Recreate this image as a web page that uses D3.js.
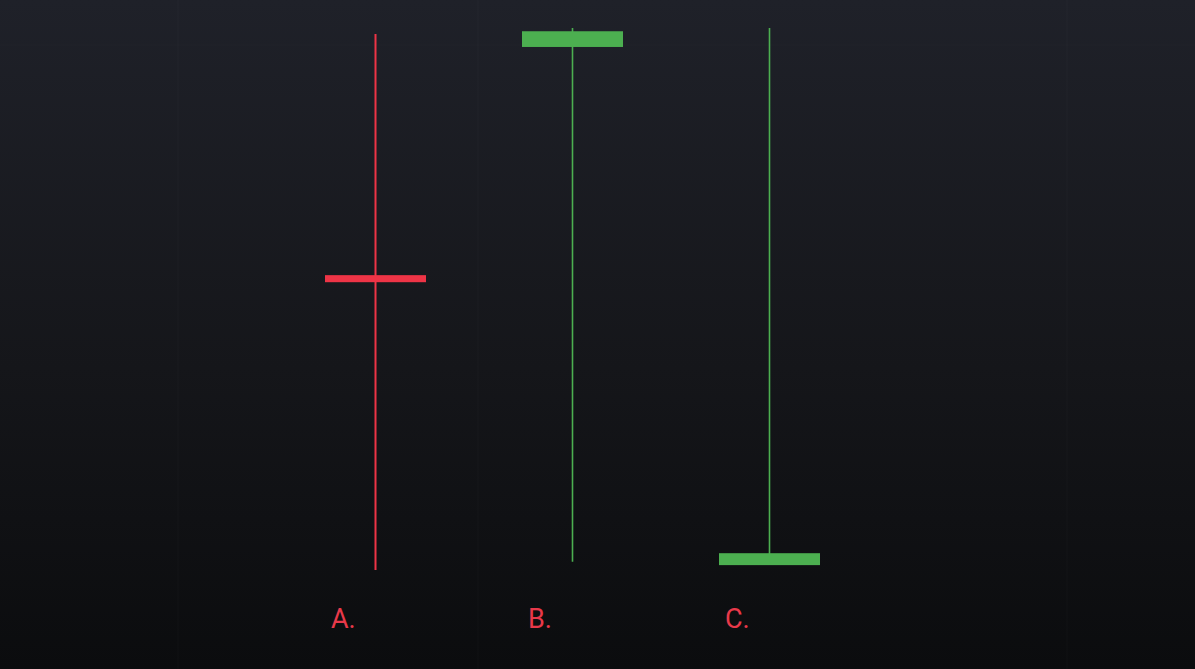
<!DOCTYPE html>
<html>
<head>
<meta charset="utf-8">
<script src="https://cdn.jsdelivr.net/npm/d3@7"></script>
<style>
  html, body { margin: 0; padding: 0; background: #0c0d0f; }
  svg { display: block; }
</style>
</head>
<body>
<svg id="chart" width="1195" height="669"></svg>
<script>
// ---- data ----
const categories = ["A.", "B.", "C."];
const opens  = [54.4, 96.5, 0.9];
const highs  = [98.9, 100, 100];
const lows   = [0, 1.5, 0.9];
const closes = [53.1, 99.4, 3.1];
const gridX  = [178, 478, 1067];   // faint background grid

const W = 1195, H = 669;
const svg = d3.select("#chart");

// background gradient
const defs = svg.append("defs");
const grad = defs.append("linearGradient").attr("id", "bg").attr("x1", 0).attr("y1", 0).attr("x2", 0).attr("y2", 1);
grad.append("stop").attr("offset", "0%").attr("stop-color", "#1f2129");
grad.append("stop").attr("offset", "55%").attr("stop-color", "#15161a");
grad.append("stop").attr("offset", "100%").attr("stop-color", "#0b0c0e");
svg.append("rect").attr("width", W).attr("height", H).attr("fill", "url(#bg)");

// faint grid
svg.append("g").selectAll("line").data(gridX).join("line")
  .attr("x1", d => d).attr("x2", d => d).attr("y1", 0).attr("y2", H)
  .attr("stroke", "rgba(255,255,255,0.01)").attr("stroke-width", 2);
svg.append("line").attr("x1", 0).attr("x2", W).attr("y1", 45).attr("y2", 45)
  .attr("stroke", "rgba(255,255,255,0.008)").attr("stroke-width", 2);

const x = d3.scalePoint().domain(categories).range([375, 769]);
const y = d3.scaleLinear().domain([0, 100]).range([570, 28]);

const data = categories.map((c, i) => ({c, o: opens[i], h: highs[i], l: lows[i], cl: closes[i]}));
const RED = "#ee3446", GREEN = "#4caf50";
const col = d => d.cl >= d.o ? GREEN : RED;
const bodyW = 101;

const g = svg.append("g");
g.selectAll("line.wick").data(data).join("line")
  .attr("class", "wick")
  .attr("x1", d => x(d.c) + 0.5).attr("x2", d => x(d.c) + 0.5)
  .attr("y1", d => y(d.h)).attr("y2", d => y(d.l))
  .attr("stroke", col)
  .attr("stroke-width", d => d.cl >= d.o ? 1.6 : 2);

g.selectAll("rect.body").data(data).join("rect")
  .attr("class", "body")
  .attr("x", d => x(d.c) - 50)
  .attr("width", bodyW)
  .attr("y", d => y(Math.max(d.o, d.cl)))
  .attr("height", d => Math.max(1, Math.abs(y(d.o) - y(d.cl))))
  .attr("fill", col);

g.selectAll("text.lab").data(data).join("text")
  .attr("class", "lab")
  .attr("x", d => x(d.c) - 44)
  .attr("y", 628)
  .attr("fill", "#e8394a")
  .attr("font-family", "Roboto, 'Noto Sans', sans-serif")
  .attr("font-size", 27)
  .text(d => d.c);
</script>
</body>
</html>
